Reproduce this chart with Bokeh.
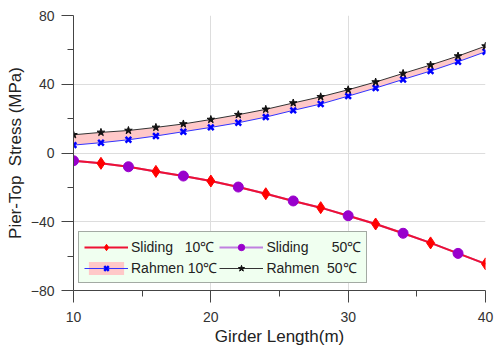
from bokeh.plotting import figure
from bokeh.models import FixedTicker, Legend, LegendItem, Range1d
from bokeh.embed import file_html
from bokeh.resources import INLINE

girder = [10, 12, 14, 16, 18, 20, 22, 24, 26, 28, 30, 32, 34, 36, 38, 40]
sliding_10 = [-4.5, -6.0, -8.0, -10.7, -13.4, -16.3, -19.8, -23.7, -27.9, -31.8, -36.5, -41.3, -46.7, -52.3, -58.4, -64.5]
sliding_50 = [-4.5, -6.0, -8.0, -10.7, -13.4, -16.3, -19.8, -23.7, -27.9, -31.8, -36.5, -41.3, -46.7, -52.3, -58.4, -64.5]
rahmen_10 = [4.6, 6.0, 7.7, 9.9, 12.4, 14.9, 17.6, 20.9, 24.8, 28.5, 33.1, 37.8, 42.8, 47.7, 53.1, 58.9]
rahmen_50 = [10.6, 12.0, 13.1, 14.9, 16.9, 19.5, 22.3, 25.4, 29.1, 32.7, 36.8, 41.3, 46.3, 51.2, 56.4, 62.2]
x_ticks = [10, 20, 30, 40]
x_minor = [15, 25, 35]
y_ticks = [-80, -40, 0, 40, 80]
y_minor = [-60, -20, 20, 60]

FONT = "Liberation Sans"

p = figure(width=494, height=349, output_backend="svg", toolbar_location=None,
           x_range=Range1d(10, 40), y_range=Range1d(-80, 80),
           min_border_left=73, min_border_right=9, min_border_top=15, min_border_bottom=59)
p.outline_line_color = None
p.background_fill_color = "white"

for ax, ticks, minor in ((p.xaxis[0], x_ticks, x_minor), (p.yaxis[0], y_ticks, y_minor)):
    ax.ticker = FixedTicker(ticks=ticks, minor_ticks=minor)
    ax.axis_line_color = "#444444"
    ax.major_tick_line_color = "#444444"
    ax.minor_tick_line_color = "#444444"
    ax.major_tick_out = 12
    ax.major_tick_in = 0
    ax.minor_tick_out = 6
    ax.minor_tick_in = 0
    ax.major_label_text_font = FONT
    ax.major_label_text_font_size = "14px"
    ax.major_label_text_color = "#333333"
    ax.axis_label_text_font = FONT
    ax.axis_label_text_font_size = "17px"
    ax.axis_label_text_font_style = "normal"
    ax.axis_label_text_color = "#222222"

p.xaxis.axis_label = "Girder Length(m)"
p.yaxis.axis_label = "Pier-Top\u00a0\u00a0Stress (MPa)"
p.xaxis.major_label_standoff = 9
p.xaxis.axis_label_standoff = 2
p.yaxis.major_label_standoff = 7
p.yaxis.axis_label_standoff = 3

p.xgrid.grid_line_color = "#dddddd"
p.ygrid.grid_line_color = "#dddddd"

# band between Rahmen curves
band = p.varea(x=girder, y1=rahmen_10, y2=rahmen_50, fill_color="#ffc8c8", fill_alpha=1.0)

# Rahmen lines
r10_line = p.line(girder, rahmen_10, line_color="#3333ff", line_width=1)
r10_mark = p.scatter(girder, rahmen_10, marker="x", size=8, line_color="#0000ff", line_width=2.5)
r50_line = p.line(girder, rahmen_50, line_color="#333333", line_width=1)
r50_mark = p.scatter(girder, rahmen_50, marker="star", size=8, fill_color="#111111", line_color="#111111")

# Sliding lines
s50_line = p.line(girder, sliding_50, line_color="#c080e0", line_width=2)
s10_line = p.line(girder, sliding_10, line_color="#ee1133", line_width=2)
s10_mark = p.scatter(girder[1::2], sliding_10[1::2], marker="diamond", size=12,
                     fill_color="#ff0000", line_color="#ff0000")
s50_mark = p.scatter(girder[0::2], sliding_50[0::2], marker="circle", size=10,
                     fill_color="#9900cc", line_color="#9900cc")

legend = Legend(items=[
    LegendItem(label="Sliding   10℃", renderers=[s10_line, s10_mark]),
    LegendItem(label="Rahmen 10℃", renderers=[band, r10_line, r10_mark]),
    LegendItem(label="Sliding      50℃", renderers=[s50_line, s50_mark]),
    LegendItem(label="Rahmen  50℃", renderers=[r50_line, r50_mark]),
], location=(5, 7), ncols=2)
legend.background_fill_color = "#f0fff0"
legend.background_fill_alpha = 1.0
legend.border_line_color = "#555555"
legend.label_text_font = FONT
legend.label_text_font_size = "14px"
legend.label_text_color = "#222222"
legend.glyph_width = 44
legend.glyph_height = 16
legend.spacing = 2
legend.padding = 5
legend.margin = 0
legend.label_standoff = 3
p.add_layout(legend)

open("out.html", "w").write(file_html(p, INLINE))
